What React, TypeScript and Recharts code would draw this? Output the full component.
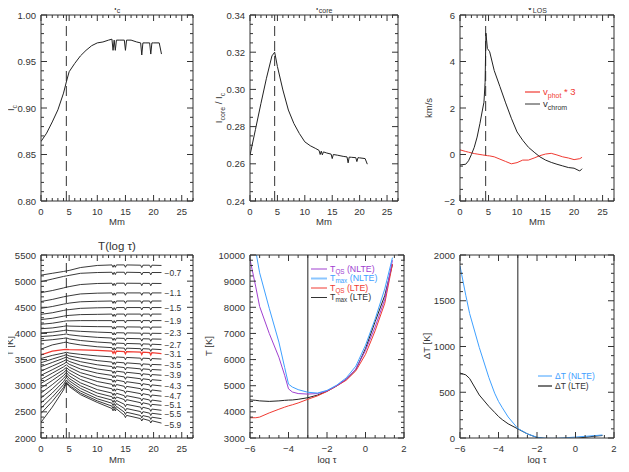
import React from 'react';
import { LineChart, Line, XAxis, YAxis, ReferenceLine, LabelList } from 'recharts';

const W = 629;
const H = 472;
const FONT = '"Liberation Sans", Arial, sans-serif';
const INK = '#333';
const RED = '#f03a32';
const PURPLE = '#a040d0';
const BLUE = '#3ea0ff';

// ---- top row: position along the cut [Mm] ----
const mmTop = [0, 1, 2, 3, 4, 4.5, 5, 6, 7, 8, 9, 10, 11, 12, 12.6, 12.8, 13.0, 13.2, 13.4, 14, 14.8, 15.0, 15.2, 16, 17, 17.7, 17.9, 18.1, 18.5, 19.3, 19.5, 19.7, 20, 21, 21.4];
const ic = [0.864, 0.873, 0.885, 0.898, 0.916, 0.928, 0.939, 0.948, 0.956, 0.962, 0.967, 0.970, 0.971, 0.973, 0.974, 0.962, 0.973, 0.962, 0.973, 0.973, 0.973, 0.962, 0.973, 0.973, 0.971, 0.970, 0.957, 0.970, 0.970, 0.970, 0.958, 0.970, 0.970, 0.970, 0.958];
const icore = [0.2646, 0.2785, 0.2925, 0.3060, 0.3180, 0.3200, 0.3123, 0.2997, 0.2889, 0.2817, 0.2763, 0.2718, 0.2697, 0.2682, 0.2672, 0.2650, 0.2668, 0.2648, 0.2664, 0.2658, 0.2652, 0.2628, 0.2650, 0.2646, 0.2640, 0.2637, 0.2605, 0.2636, 0.2635, 0.2633, 0.2612, 0.2633, 0.2632, 0.2628, 0.2598];

const mmV = [0, 1, 1.5, 2, 2.5, 3, 3.5, 4, 4.2, 4.4, 4.55, 4.8, 5.2, 6, 7, 8, 9, 10, 11, 12, 13, 14, 15, 16, 17, 18, 19, 20, 21, 21.4];
const vChrom = [-0.45, -0.42, -0.27, 0, 0.31, 0.75, 1.34, 2.0, 2.25, 3.1, 5.22, 4.56, 4.42, 3.61, 2.92, 2.22, 1.56, 0.97, 0.61, 0.31, 0.1, -0.1, -0.24, -0.34, -0.42, -0.49, -0.56, -0.59, -0.71, -0.61];
const vPhot3 = [0.2, 0.13, 0.1, 0.07, 0.04, 0.02, 0.0, -0.02, -0.03, -0.03, -0.04, -0.05, -0.06, -0.1, -0.2, -0.3, -0.4, -0.35, -0.24, -0.24, -0.15, -0.05, 0.02, 0.05, -0.02, -0.1, -0.15, -0.22, -0.18, -0.12];

// ---- T(log tau) along the cut ----
const mmT = [0, 2, 4, 4.5, 5, 7, 10, 12.6, 12.8, 13.0, 13.2, 13.4, 14.8, 15.0, 15.2, 17.7, 17.9, 18.1, 19.3, 19.5, 19.7, 21.4];
const tau = [-0.5, -0.7, -0.9, -1.1, -1.3, -1.5, -1.7, -1.9, -2.1, -2.3, -2.5, -2.7, -2.9, -3.1, -3.3, -3.5, -3.7, -3.9, -4.1, -4.3, -4.5, -4.7, -4.9, -5.1, -5.3, -5.5, -5.7, -5.9];
const tCuts = [
  [5115, 5150, 5185, 5195, 5205, 5260, 5300, 5310, 5265, 5310, 5265, 5310, 5310, 5265, 5310, 5305, 5260, 5305, 5305, 5260, 5305, 5300],
  [4990, 5040, 5090, 5100, 5110, 5150, 5165, 5170, 5125, 5170, 5125, 5170, 5170, 5125, 5170, 5165, 5120, 5165, 5165, 5120, 5165, 5165],
  [4780, 4820, 4870, 4885, 4895, 4935, 4955, 4960, 4915, 4960, 4915, 4960, 4960, 4915, 4960, 4958, 4913, 4958, 4957, 4912, 4957, 4955],
  [4610, 4650, 4700, 4710, 4720, 4755, 4770, 4775, 4730, 4775, 4730, 4775, 4775, 4730, 4775, 4775, 4730, 4775, 4775, 4730, 4775, 4775],
  [4480, 4515, 4560, 4570, 4580, 4605, 4615, 4620, 4575, 4620, 4575, 4620, 4620, 4575, 4620, 4620, 4575, 4620, 4620, 4575, 4620, 4620],
  [4365, 4395, 4440, 4450, 4455, 4480, 4490, 4495, 4450, 4495, 4450, 4495, 4495, 4450, 4495, 4495, 4450, 4495, 4495, 4450, 4495, 4495],
  [4265, 4290, 4330, 4340, 4345, 4360, 4365, 4370, 4325, 4370, 4325, 4370, 4370, 4325, 4370, 4370, 4325, 4370, 4370, 4325, 4370, 4370],
  [4175, 4195, 4230, 4240, 4240, 4245, 4245, 4245, 4200, 4245, 4200, 4245, 4245, 4200, 4245, 4245, 4200, 4245, 4245, 4200, 4245, 4245],
  [4090, 4105, 4135, 4145, 4140, 4135, 4130, 4128, 4083, 4128, 4083, 4127, 4125, 4080, 4125, 4122, 4077, 4122, 4121, 4076, 4121, 4120],
  [4010, 4025, 4055, 4065, 4055, 4040, 4025, 4015, 3970, 4015, 3970, 4014, 4010, 3965, 4010, 4005, 3960, 4005, 4003, 3958, 4003, 4000],
  [3940, 3955, 3980, 3990, 3975, 3950, 3925, 3912, 3867, 3911, 3866, 3910, 3905, 3860, 3905, 3898, 3853, 3898, 3895, 3850, 3894, 3890],
  [3860, 3880, 3905, 3915, 3895, 3865, 3835, 3818, 3773, 3817, 3772, 3816, 3808, 3763, 3808, 3800, 3755, 3800, 3795, 3750, 3794, 3785],
  [3700, 3780, 3825, 3835, 3815, 3780, 3745, 3728, 3683, 3727, 3682, 3726, 3718, 3673, 3718, 3708, 3663, 3708, 3702, 3657, 3701, 3690],
  [3590, 3660, 3690, 3695, 3690, 3685, 3675, 3662, 3617, 3661, 3616, 3660, 3652, 3607, 3652, 3642, 3597, 3642, 3632, 3587, 3631, 3615],
  [3520, 3580, 3625, 3640, 3625, 3600, 3570, 3552, 3507, 3551, 3506, 3550, 3541, 3496, 3541, 3527, 3482, 3527, 3520, 3475, 3519, 3510],
  [3440, 3510, 3575, 3595, 3570, 3530, 3480, 3452, 3407, 3451, 3406, 3450, 3437, 3392, 3437, 3417, 3372, 3417, 3408, 3363, 3407, 3400],
  [3365, 3445, 3525, 3550, 3520, 3460, 3400, 3367, 3322, 3366, 3321, 3365, 3347, 3302, 3347, 3322, 3277, 3322, 3311, 3266, 3310, 3300],
  [3280, 3375, 3470, 3500, 3465, 3390, 3320, 3282, 3237, 3280, 3235, 3278, 3258, 3213, 3257, 3228, 3183, 3227, 3214, 3169, 3213, 3200],
  [3200, 3305, 3415, 3450, 3410, 3320, 3240, 3197, 3152, 3195, 3150, 3193, 3168, 3123, 3167, 3133, 3088, 3132, 3116, 3071, 3115, 3100],
  [3120, 3240, 3360, 3400, 3355, 3250, 3160, 3112, 3067, 3110, 3065, 3108, 3078, 3033, 3077, 3038, 2993, 3037, 3017, 2972, 3016, 2995],
  [3045, 3170, 3305, 3350, 3300, 3185, 3080, 3027, 2982, 3025, 2980, 3023, 2988, 2943, 2987, 2943, 2898, 2942, 2920, 2875, 2919, 2895],
  [2960, 3100, 3250, 3300, 3245, 3120, 3000, 2942, 2897, 2940, 2895, 2938, 2898, 2853, 2897, 2848, 2803, 2847, 2823, 2778, 2822, 2800],
  [2860, 3020, 3195, 3255, 3190, 3055, 2925, 2860, 2815, 2858, 2813, 2856, 2810, 2765, 2809, 2755, 2710, 2754, 2727, 2682, 2726, 2700],
  [2765, 2940, 3140, 3205, 3140, 3000, 2860, 2790, 2745, 2787, 2742, 2785, 2735, 2690, 2733, 2675, 2630, 2673, 2645, 2600, 2643, 2625],
  [2670, 2860, 3080, 3160, 3095, 2950, 2800, 2725, 2680, 2722, 2677, 2719, 2645, 2600, 2643, 2590, 2545, 2588, 2555, 2510, 2553, 2530],
  [2570, 2780, 3020, 3110, 3050, 2900, 2750, 2665, 2620, 2662, 2617, 2659, 2565, 2520, 2563, 2505, 2460, 2503, 2475, 2430, 2473, 2450],
  [2470, 2700, 2965, 3075, 3010, 2860, 2710, 2610, 2565, 2607, 2562, 2604, 2495, 2450, 2493, 2430, 2385, 2428, 2400, 2355, 2398, 2370],
  [2300, 2590, 2920, 3050, 2985, 2830, 2680, 2565, 2520, 2562, 2517, 2559, 2435, 2390, 2433, 2370, 2325, 2368, 2332, 2287, 2330, 2285],
];
const redCut = 13;

// ---- stratifications vs log tau ----
const logTau = [-6, -5.7, -5.5, -5, -4.5, -4.2, -4, -3.8, -3.5, -3, -2.5, -2, -1.5, -1, -0.5, 0, 0.5, 1, 1.4];
const tqsNlte = [9830, 8780, 8030, 7000, 6090, 5400, 4880, 4760, 4700, 4680, 4700, 4800, 5000, 5250, 5640, 6350, 7250, 8300, 9800];
const tmaxNlte = [11600, 10150, 9320, 7960, 6670, 5700, 5060, 4950, 4850, 4750, 4720, 4820, 5020, 5300, 5750, 6550, 7550, 8700, 9900];
const tqsLte = [3775, 3775, 3800, 3960, 4100, 4180, 4230, 4270, 4340, 4480, 4610, 4780, 4990, 5210, 5570, 6200, 7100, 8150, 9650];
const tmaxLte = [4460, 4440, 4420, 4400, 4420, 4440, 4450, 4455, 4480, 4540, 4640, 4790, 4990, 5240, 5620, 6420, 7450, 8450, 9640];
const dtNlte = [1880, 1560, 1360, 990, 660, 490, 400, 330, 230, 105, 45, 8, -3, -4, 3, 10, 18, 26, 33];
const dtLte = [710, 690, 650, 470, 345, 280, 235, 200, 155, 100, 45, 5, -10, -10, -6, -3, 8, 20, 27];

// tick labels
const mmMajor = [0, 5, 10, 15, 20, 25];
const tauMajor = [-6, -4, -2, 0, 2];
const icMajor = [0.8, 0.85, 0.9, 0.95, 1.0];
const icoreMajor = [0.24, 0.26, 0.28, 0.3, 0.32, 0.34];
const vMajor = [-2, 0, 2, 4, 6];
const tCutMajor = [2000, 2500, 3000, 3500, 4000, 4500, 5000, 5500];
const tStratMajor = [3000, 4000, 5000, 6000, 7000, 8000, 9000, 10000];
const dtMajor = [0, 500, 1000, 1500, 2000];

const steps = (a: number, b: number, s: number) => {
  const n = Math.round((b - a) / s);
  return Array.from({ length: n + 1 }, (_, i) => +(a + i * s).toFixed(5));
};

const num = (d: number) => (v: number) => (v < 0 ? '\u2212' : '') + Math.abs(v).toFixed(d);

type Side = 'bottom' | 'top' | 'left' | 'right';
const tickMark = (side: Side, major: number[], fmt?: (v: number) => string) => (p: any) => {
  const { x, y, payload } = p;
  const v = payload.value;
  const big = major.some((m) => Math.abs(m - v) < 1e-6);
  const len = big ? 6 : 3;
  let x2 = x;
  let y2 = y;
  if (side === 'bottom') y2 = y - len;
  if (side === 'top') y2 = y + len;
  if (side === 'left') x2 = x + len;
  if (side === 'right') x2 = x - len;
  return (
    <g>
      <line x1={x} y1={y} x2={x2} y2={y2} stroke={INK} strokeWidth={1} />
      {big && fmt && side === 'bottom' && (
        <text x={x} y={y + 13.5} textAnchor="middle" fontSize={9.5} fontFamily={FONT} fill={INK}>{fmt(v)}</text>
      )}
      {big && fmt && side === 'left' && (
        <text x={x - 5} y={y + 3.5} textAnchor="end" fontSize={9.5} fontFamily={FONT} fill={INK}>{fmt(v)}</text>
      )}
    </g>
  );
};

type PanelProps = {
  box: [number, number, number, number];
  data: any[];
  xDomain: [number, number];
  yDomain: [number, number];
  xTicks: number[];
  yTicks: number[];
  xMajor: number[];
  yMajor: number[];
  xFmt: (v: number) => string;
  yFmt: (v: number) => string;
  children: React.ReactNode;
};

// each axis is 1px thick so recharts still draws it; margins take that pixel back
function Panel({ box, data, xDomain, yDomain, xTicks, yTicks, xMajor, yMajor, xFmt, yFmt, children }: PanelProps) {
  const [l, t, r, b] = box;
  const common = { type: 'number' as const, interval: 0 as const, tickSize: 0, tickMargin: 0, tickLine: false, axisLine: { stroke: INK }, allowDataOverflow: true };
  return (
    <div style={{ position: 'absolute', left: 0, top: 0 }}>
      <LineChart width={W} height={H} data={data} margin={{ left: l - 1, top: t - 1, right: W - r - 1, bottom: H - b - 1 }}>
        <XAxis xAxisId="b" dataKey="x" domain={xDomain} ticks={xTicks} height={1} tick={tickMark('bottom', xMajor, xFmt)} {...common} />
        <XAxis xAxisId="t" dataKey="x" orientation="top" domain={xDomain} ticks={xTicks} height={1} tick={tickMark('top', xMajor)} {...common} />
        <YAxis yAxisId="l" domain={yDomain} ticks={yTicks} width={1} tick={tickMark('left', yMajor, yFmt)} {...common} />
        <YAxis yAxisId="r" orientation="right" domain={yDomain} ticks={yTicks} width={1} tick={tickMark('right', yMajor)} {...common} />
        {children}
      </LineChart>
    </div>
  );
}

const endLabel = (text: string, last: number, nudge: number) => (p: any) => {
  if (p.index !== last) return null;
  const x = p.x ?? p.viewBox?.x;
  const y = p.y ?? p.viewBox?.y;
  return (
    <text x={x + 3} y={y + 3 + nudge} fontSize={8.5} fontFamily={FONT} fill={INK}>{text}</text>
  );
};

const topRows = mmTop.map((x, i) => ({ x, ic: ic[i], icore: icore[i] }));
const vRows = mmV.map((x, i) => ({ x, chrom: vChrom[i], phot: vPhot3[i] }));
const tRows = mmT.map((x, i) => {
  const row: any = { x };
  tCuts.forEach((cut, k) => { row['k' + k] = cut[i]; });
  return row;
});
const stratRows = logTau.map((x, i) => ({
  x, tqsN: tqsNlte[i], tmaxN: tmaxNlte[i], tqsL: tqsLte[i], tmaxL: tmaxLte[i], dtN: dtNlte[i], dtL: dtLte[i],
}));

const ax = { xAxisId: 'b', yAxisId: 'l' };
const ln = { type: 'linear' as const, dot: false, isAnimationActive: false, strokeWidth: 1 };

const Sub = ({ children, s = 7, d = 3 }: { children: React.ReactNode; s?: number; d?: number }) => (
  <tspan dy={d} fontSize={s}>{children}</tspan>
);
const Up = ({ children, d = 3 }: { children: React.ReactNode; d?: number }) => <tspan dy={-d}>{children}</tspan>;

function Overlay() {
  const t = { fontFamily: FONT, fill: INK };
  const rot = (x: number, y: number) => `rotate(-90 ${x} ${y})`;
  return (
    <svg width={W} height={H} style={{ position: 'absolute', left: 0, top: 0 }}>
      {/* titles */}
      <text x={117} y={10} textAnchor="middle" fontSize={11.5} {...t}>I<Sub>c</Sub></text>
      <text x={324} y={10} textAnchor="middle" fontSize={11.5} {...t}>I<Sub>core</Sub></text>
      <text x={537} y={10} textAnchor="middle" fontSize={11.5} {...t}>v<Sub>LOS</Sub></text>
      <text x={117} y={250} textAnchor="middle" fontSize={11.5} {...t}>T(log &#964;)</text>

      {/* x titles */}
      <text x={117} y={225} textAnchor="middle" fontSize={9.5} {...t}>Mm</text>
      <text x={324} y={225} textAnchor="middle" fontSize={9.5} {...t}>Mm</text>
      <text x={537} y={225} textAnchor="middle" fontSize={9.5} {...t}>Mm</text>
      <text x={117} y={462.5} textAnchor="middle" fontSize={9.5} {...t}>Mm</text>
      <text x={327} y={462.5} textAnchor="middle" fontSize={9.5} {...t}>log &#964;</text>
      <text x={537} y={462.5} textAnchor="middle" fontSize={9.5} {...t}>log &#964;</text>

      {/* y titles */}
      <text x={14} y={108} transform={rot(14, 108)} textAnchor="middle" fontSize={9.5} {...t}>I<Sub>c</Sub></text>
      <text x={222} y={108} transform={rot(222, 108)} textAnchor="middle" fontSize={9.5} {...t}>I<Sub>core</Sub><Up> / I</Up><Sub>c</Sub></text>
      <text x={432} y={108} transform={rot(432, 108)} textAnchor="middle" fontSize={9.5} {...t}>km/s</text>
      <text x={13} y={346} transform={rot(13, 346)} textAnchor="middle" fontSize={9.5} {...t}>T [K]</text>
      <text x={212} y={346} transform={rot(212, 346)} textAnchor="middle" fontSize={9.5} {...t}>T [K]</text>
      <text x={430} y={346} transform={rot(430, 346)} textAnchor="middle" fontSize={9.5} {...t}>&#916;T [K]</text>

      {/* v_LOS legend */}
      <line x1={525} x2={540} y1={92} y2={92} stroke={RED} strokeWidth={2} strokeOpacity={0.6} />
      <text x={543} y={95} fontSize={9.5} fontFamily={FONT} fill={RED}>v<Sub>phot</Sub><Up> * 3</Up></text>
      <line x1={525} x2={540} y1={104} y2={104} stroke={INK} strokeWidth={1} />
      <text x={543} y={107} fontSize={9.5} {...t}>v<Sub>chrom</Sub></text>

      {/* T strat legend */}
      <line x1={311} x2={327} y1={269} y2={269} stroke={PURPLE} strokeWidth={1} />
      <text x={330} y={271.5} fontSize={8.8} fontFamily={FONT} fill={PURPLE}>T<Sub s={6.3} d={2}>QS</Sub><Up d={2}> (NLTE)</Up></text>
      <line x1={311} x2={327} y1={278.5} y2={278.5} stroke={BLUE} strokeWidth={2} strokeOpacity={0.6} />
      <text x={330} y={281} fontSize={8.8} fontFamily={FONT} fill={BLUE}>T<Sub s={6.3} d={2}>max</Sub><Up d={2}> (NLTE)</Up></text>
      <line x1={311} x2={327} y1={288} y2={288} stroke={RED} strokeWidth={1} />
      <text x={330} y={290.5} fontSize={8.8} fontFamily={FONT} fill={RED}>T<Sub s={6.3} d={2}>QS</Sub><Up d={2}> (LTE)</Up></text>
      <line x1={311} x2={327} y1={297.5} y2={297.5} stroke={INK} strokeWidth={1} />
      <text x={330} y={300} fontSize={8.8} {...t}>T<Sub s={6.3} d={2}>max</Sub><Up d={2}> (LTE)</Up></text>

      {/* dT legend */}
      <line x1={538} x2={552} y1={376} y2={376} stroke={BLUE} strokeWidth={1} />
      <text x={555} y={379} fontSize={8.5} fontFamily={FONT} fill={BLUE}>&#916;T (NLTE)</text>
      <line x1={538} x2={552} y1={386} y2={386} stroke="#777" strokeWidth={2} />
      <text x={555} y={389} fontSize={8.5} {...t}>&#916;T (LTE)</text>
    </svg>
  );
}

export default function App() {
  const mmTicks = steps(0, 27, 1);
  const tauTicks = steps(-6, 2, 0.5);
  const lastT = mmT.length - 1;
  const nudge = (k: number) => (k === 27 ? 1.5 : 0);
  return (
    <div style={{ position: 'relative', width: W, height: H, margin: -8, background: '#fff', overflow: 'hidden' }}>
      <Panel box={[41, 15, 193, 201]} data={topRows} xDomain={[0, 27]} yDomain={[0.8, 1.0]} xTicks={mmTicks} yTicks={steps(0.8, 1.0, 0.01)} xMajor={mmMajor} yMajor={icMajor} xFmt={num(0)} yFmt={num(2)}>
        <ReferenceLine {...ax} x={4.5} stroke={INK} strokeDasharray="10 5" />
        <Line {...ax} {...ln} dataKey="ic" stroke="#222" />
      </Panel>

      <Panel box={[250, 15, 398, 201]} data={topRows} xDomain={[0, 27]} yDomain={[0.24, 0.34]} xTicks={mmTicks} yTicks={steps(0.24, 0.34, 0.005)} xMajor={mmMajor} yMajor={icoreMajor} xFmt={num(0)} yFmt={num(2)}>
        <ReferenceLine {...ax} x={4.5} stroke={INK} strokeDasharray="10 5" />
        <Line {...ax} {...ln} dataKey="icore" stroke="#222" />
      </Panel>

      <Panel box={[460, 15, 614, 201]} data={vRows} xDomain={[0, 27]} yDomain={[-2, 6]} xTicks={mmTicks} yTicks={steps(-2, 6, 0.5)} xMajor={mmMajor} yMajor={vMajor} xFmt={num(0)} yFmt={num(0)}>
        <ReferenceLine {...ax} x={4.5} stroke={INK} strokeDasharray="10 5" />
        <Line {...ax} {...ln} dataKey="phot" stroke={RED} />
        <Line {...ax} {...ln} dataKey="chrom" stroke="#222" />
      </Panel>

      <Panel box={[41, 255, 193, 438]} data={tRows} xDomain={[0, 27]} yDomain={[2000, 5500]} xTicks={mmTicks} yTicks={steps(2000, 5500, 100)} xMajor={mmMajor} yMajor={tCutMajor} xFmt={num(0)} yFmt={num(0)}>
        <ReferenceLine {...ax} x={4.5} stroke={INK} strokeDasharray="10 5" />
        {tCuts.map((_, k) => (
          <Line key={k} {...ax} {...ln} dataKey={'k' + k} stroke={k === redCut ? RED : '#222'} strokeWidth={k === redCut ? 1.2 : 0.9}>
            {k % 2 === 1 && <LabelList dataKey={'k' + k} content={endLabel(num(1)(tau[k]), lastT, nudge(k))} />}
          </Line>
        ))}
      </Panel>

      <Panel box={[250, 255, 404, 438]} data={stratRows} xDomain={[-6, 2]} yDomain={[3000, 10000]} xTicks={tauTicks} yTicks={steps(3000, 10000, 200)} xMajor={tauMajor} yMajor={tStratMajor} xFmt={num(0)} yFmt={num(0)}>
        <ReferenceLine {...ax} x={-3} stroke="#6a6a6a" strokeWidth={1.5} />
        <Line {...ax} {...ln} dataKey="tmaxL" stroke="#222" />
        <Line {...ax} {...ln} dataKey="tqsL" stroke={RED} />
        <Line {...ax} {...ln} dataKey="tqsN" stroke={PURPLE} />
        <Line {...ax} {...ln} dataKey="tmaxN" stroke={BLUE} />
      </Panel>

      <Panel box={[460, 255, 614, 438]} data={stratRows} xDomain={[-6, 2]} yDomain={[0, 2000]} xTicks={tauTicks} yTicks={steps(0, 2000, 100)} xMajor={tauMajor} yMajor={dtMajor} xFmt={num(0)} yFmt={num(0)}>
        <ReferenceLine {...ax} x={-3} stroke="#6a6a6a" strokeWidth={1.5} />
        <Line {...ax} {...ln} dataKey="dtL" stroke="#222" />
        <Line {...ax} {...ln} dataKey="dtN" stroke={BLUE} />
      </Panel>

      <Overlay />
    </div>
  );
}
